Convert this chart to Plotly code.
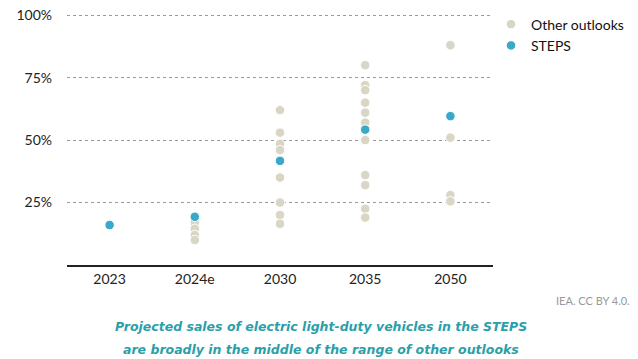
import plotly.graph_objects as go

categories = ["2023", "2024e", "2030", "2035", "2050"]

# Other outlooks: values (%) per category
other_2024 = [17, 14.5, 12, 10]
other_2030 = [62, 53, 48.5, 46, 35, 25, 20, 16.5]
other_2035 = [80, 72, 70, 65, 61, 57, 50, 36, 32, 22.5, 19]
other_2050 = [88, 51, 28, 25.5]

steps_values = [16, 19.3, 41.7, 54.2, 59.6]

other_x = (["2024e"] * len(other_2024) + ["2030"] * len(other_2030)
           + ["2035"] * len(other_2035) + ["2050"] * len(other_2050))
other_y = other_2024 + other_2030 + other_2035 + other_2050

y_ticks = [25, 50, 75, 100]
y_tick_labels = ["25%", "50%", "75%", "100%"]

W, H = 638, 359
L, R, T, B = 67, 145, 14.4, 93.5
PW, PH = W - L - R, H - T - B


def px(x):
    return (x - L) / PW


def py(y):
    return (H - B - y) / PH


fig = go.Figure()
fig.add_trace(go.Scatter(
    x=other_x, y=other_y, mode="markers", name="Other outlooks",
    marker=dict(color="#d9d6c5", size=9.5, line=dict(color="white", width=1)),
))
fig.add_trace(go.Scatter(
    x=categories, y=steps_values, mode="markers", name="STEPS",
    marker=dict(color="#3aa9c9", size=9.5, line=dict(color="white", width=1)),
))

fig.update_layout(
    width=W, height=H,
    margin=dict(l=L, r=R, t=T, b=B, autoexpand=False),
    paper_bgcolor="white", plot_bgcolor="white",
    font=dict(family="Lato, sans-serif", size=14, color="#222"),
    showlegend=True,
    legend=dict(x=px(491), xanchor="left", y=py(9), yanchor="top",
                font=dict(size=14, color="#111"), bgcolor="rgba(0,0,0,0)",
                tracegroupgap=0),
    xaxis=dict(type="category", categoryorder="array", categoryarray=categories,
               range=[-0.5, 4.5], showgrid=False, showline=True,
               linecolor="#222", linewidth=1.5, ticks="", zeroline=False,
               tickfont=dict(size=14, color="#222")),
    yaxis=dict(range=[0, 100.5], tickvals=y_ticks, ticktext=y_tick_labels,
               showgrid=True, gridcolor="#9a9a9a", griddash="dot", gridwidth=1,
               zeroline=False, showline=False, ticks="",
               ticklabelstandoff=14,
               tickfont=dict(size=14, color="#222")),
)

fig.add_annotation(text="IEA. CC BY 4.0.", xref="paper", yref="paper",
                   x=px(632), y=py(301),
                   xanchor="right", yanchor="middle", showarrow=False,
                   font=dict(size=11, color="#999"))

cap_style = dict(size=12.5, color="#2b9fa9", family="DejaVu Sans, sans-serif")
for txt, yy in [("<b><i>Projected sales of electric light-duty vehicles in the STEPS</i></b>", 326.7),
                ("<b><i>are broadly in the middle of the range of other outlooks</i></b>", 350)]:
    fig.add_annotation(text=txt, xref="paper", yref="paper",
                       x=px(321), y=py(yy),
                       xanchor="center", yanchor="middle", showarrow=False,
                       font=cap_style)

fig.write_html("out.html", config={"displayModeBar": False},
               post_script="document.body.style.margin='0px';document.body.style.padding='0px';")
